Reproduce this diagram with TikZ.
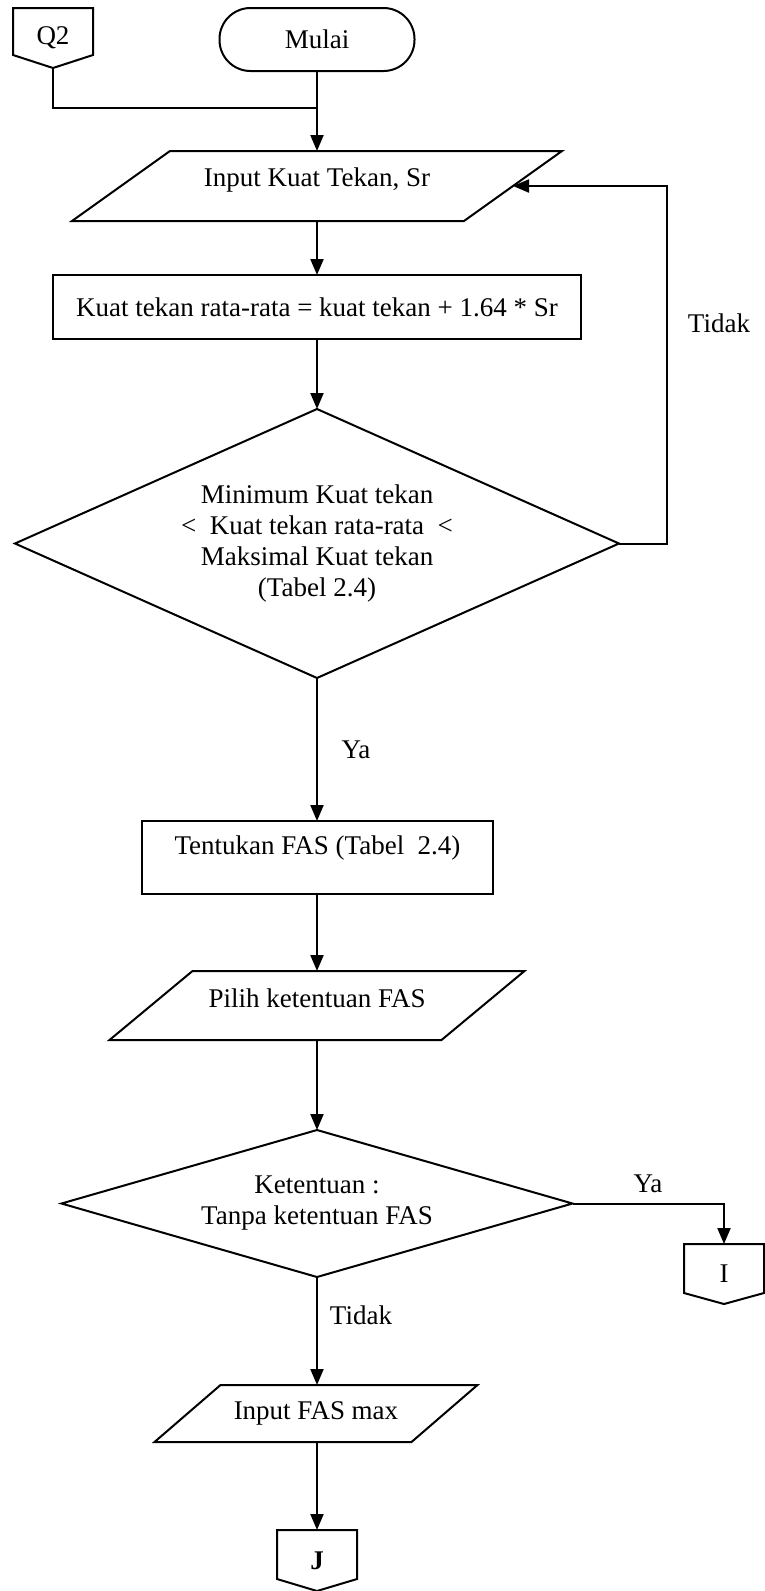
\documentclass[tikz,border=0pt]{standalone}
\usepackage{fontspec}
\setmainfont{Liberation Serif}
\usetikzlibrary{shapes.geometric,arrows.meta}

% off-page connector: box with a pointed bottom
\newcommand\offpagebox[2]{%
  \draw[shapeline] (#1.north west) -- (#1.north east) -- ([yshift=#2]#1.south east)
    -- (#1.south) -- ([yshift=#2]#1.south west) -- cycle;}

% input/output parallelogram drawn around a node (node box = mid-height body)
\newcommand\slantbox[2]{%
  \draw[shapeline] ([xshift=#2/2]#1.north west) -- ([xshift=#2/2]#1.north east)
    -- ([xshift=-#2/2]#1.south east) -- ([xshift=-#2/2]#1.south west) -- cycle;}

\begin{document}
\begin{tikzpicture}[x=0.5pt,y=-0.5pt,
  every node/.style={font=\fontsize{13.5}{15.5}\selectfont, inner sep=0pt, outer sep=0pt},
  shapeline/.style={draw=black, line width=1pt},
  wire/.style={draw=black, line width=1pt},
  flow/.style={draw=black, line width=1pt, -{Triangle[length=8pt,width=6.5pt]}},
  terminal/.style={shapeline, rectangle, rounded corners=15.5pt, minimum width=97.5pt, minimum height=31.5pt},
  process/.style={shapeline, rectangle},
  io/.style={rectangle},
  decision/.style={shapeline, diamond, align=center},
  connector/.style={rectangle, minimum width=40pt},
  tag/.style={}
]
\useasboundingbox (0,0) rectangle (765,1591);

% start and entry connector
\node[connector, minimum height=30pt] (q2) at (53,38) {Q2};
\offpagebox{q2}{6.5pt}
\node[terminal] (start) at (317,39.5) {Mulai};

% input of compressive strength
\node[io, minimum width=196pt, minimum height=35pt, text depth=9pt] (in1) at (317,186) {Input Kuat Tekan, Sr};
\slantbox{in1}{49pt}

% mean strength
\node[process, minimum width=264pt, minimum height=32pt] (calc1) at (317,307)
  {Kuat tekan rata-rata = kuat tekan + 1.64 * Sr};

% range check
\node[decision, aspect=2.245, minimum width=302pt, minimum height=134.5pt] (dec1) at (317,543.5)
  {Minimum Kuat tekan\\<~ Kuat tekan rata-rata ~<\\Maksimal Kuat tekan\\(Tabel 2.4)};

% water-cement ratio
\node[process, minimum width=175.5pt, minimum height=36.5pt, text depth=12pt] (proc2) at (317.5,857.5)
  {Tentukan FAS (Tabel~ 2.4)};

\node[io, minimum width=166pt, minimum height=34.5pt, text depth=7pt] (in2) at (317,1005.5) {Pilih ketentuan FAS};
\slantbox{in2}{41.5pt}

\node[decision, aspect=3.48, minimum width=255.5pt, minimum height=73.5pt] (dec2) at (317,1203.5)
  {Ketentuan :\\Tanpa ketentuan FAS};

\node[io, minimum width=128.5pt, minimum height=28.5pt] (in3) at (316,1413.5) {Input FAS max};
\slantbox{in3}{33pt}

% exit connectors
\node[connector, minimum height=30pt] (conI) at (724,1274) {I};
\offpagebox{conI}{5.5pt}
\node[connector, minimum height=30.5pt] (conJ) at (317,1560.5) {\textbf{J}};
\offpagebox{conJ}{6pt}

% branch labels
\node[tag] (lblno1) at (719,323) {Tidak};
\node[tag] (lblyes1) at (356,750) {Ya};
\node[tag] (lblyes2) at (648,1184) {Ya};
\node[tag] (lblno2) at (361,1315) {Tidak};

% connectors
\coordinate (join) at (317,108);
\coordinate (loopx) at (667,0);
\draw[wire] (q2.south) |- (join);
\draw[flow] (start.south) -- (start.south |- in1.north);
\draw[flow] (calc1.north |- in1.south) -- (calc1.north);
\draw[flow] (calc1.south) -- (dec1.north);
\draw[flow] (dec1.east) -| (loopx |- in1.east) -- (in1.east);
\draw[flow] (dec1.south) -- (proc2.north -| dec1.south);
\draw[flow] (proc2.south -| dec1.south) -- (dec1.south |- in2.north);
\draw[flow] (dec2.north |- in2.south) -- (dec2.north);
\draw[flow] (dec2.east) -| (conI.north);
\draw[flow] (dec2.south) -- (dec2.south |- in3.north);
\draw[flow] (conJ.north |- in3.south) -- (conJ.north);
\end{tikzpicture}
\end{document}
